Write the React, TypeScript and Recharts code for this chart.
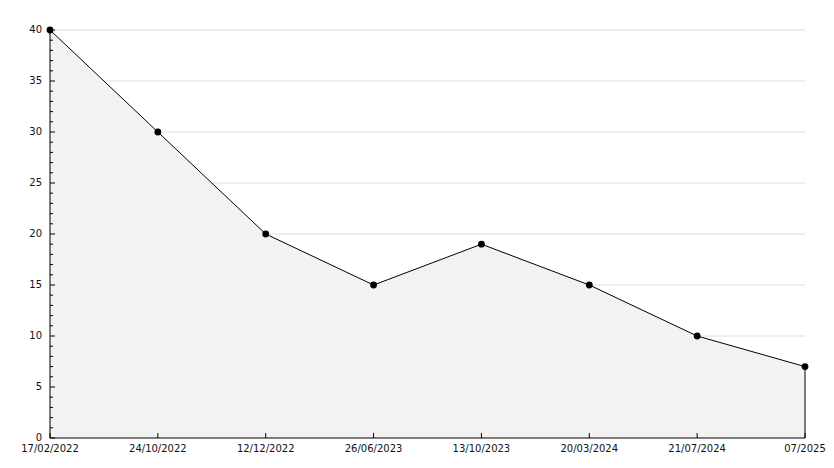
import { Area, AreaChart, CartesianGrid, ReferenceLine, XAxis, YAxis } from "recharts"

const dates = [
  "17/02/2022",
  "24/10/2022",
  "12/12/2022",
  "26/06/2023",
  "13/10/2023",
  "20/03/2024",
  "21/07/2024",
  "07/2025",
]
const values = [40, 30, 20, 15, 19, 15, 10, 7]
const yTicks = Array.from({ length: 41 }, (_, i) => i)
const gridValues = [5, 10, 15, 20, 25, 30, 35, 40]

const data = dates.map((date, i) => ({ date, value: values[i] }))
const lastDate = dates[dates.length - 1]
const lastValue = values[values.length - 1]

const FONT = "'DejaVu Sans', sans-serif"

const YTick = (props: any) => {
  const { x, y, payload } = props
  const major = payload.value % 5 === 0
  return (
    <g>
      <line x1={x} y1={y} x2={x + (major ? 5 : 3)} y2={y} stroke="#000" />
      {major && (
        <text x={x - 8} y={y + 3} textAnchor="end" fontSize={10} fontFamily={FONT} fill="#111">
          {payload.value}
        </text>
      )}
    </g>
  )
}

const XTick = (props: any) => {
  const { x, y, payload } = props
  return (
    <g>
      <line x1={x} y1={y} x2={x} y2={y - 5} stroke="#000" />
      <text x={x} y={y + 14} textAnchor="middle" fontSize={10} fontFamily={FONT} fill="#111">
        {payload.value}
      </text>
    </g>
  )
}

const Dot = (props: any) => {
  const { cx, cy, index } = props
  return <circle key={`dot-${index}`} cx={cx} cy={cy} r={3.4} fill="#000" />
}

export default function App() {
  return (
    <div style={{ margin: -8, width: 834, height: 468, background: "#fff" }}>
      <AreaChart width={834} height={468} data={data} margin={{ top: 30, right: 29, bottom: 0, left: 0 }}>
        <CartesianGrid vertical={false} horizontalValues={gridValues} stroke="#dddddd" />
        <XAxis
          dataKey="date"
          height={30}
          tickSize={0}
          tickMargin={0}
          tick={<XTick />}
          interval={0}
          axisLine={{ stroke: "#000" }}
          tickLine={false}
        />
        <YAxis
          width={50}
          domain={[0, 40]}
          ticks={yTicks}
          interval={0}
          tickSize={0}
          tickMargin={0}
          tick={<YTick />}
          axisLine={{ stroke: "#000" }}
          tickLine={false}
        />
        <Area
          type="linear"
          dataKey="value"
          stroke="#000"
          strokeWidth={1}
          fill="#f2f2f2"
          fillOpacity={1}
          dot={<Dot />}
          activeDot={false}
          isAnimationActive={false}
        />
        <ReferenceLine
          segment={[
            { x: lastDate, y: 0 },
            { x: lastDate, y: lastValue },
          ]}
          stroke="#000"
        />
      </AreaChart>
    </div>
  )
}
